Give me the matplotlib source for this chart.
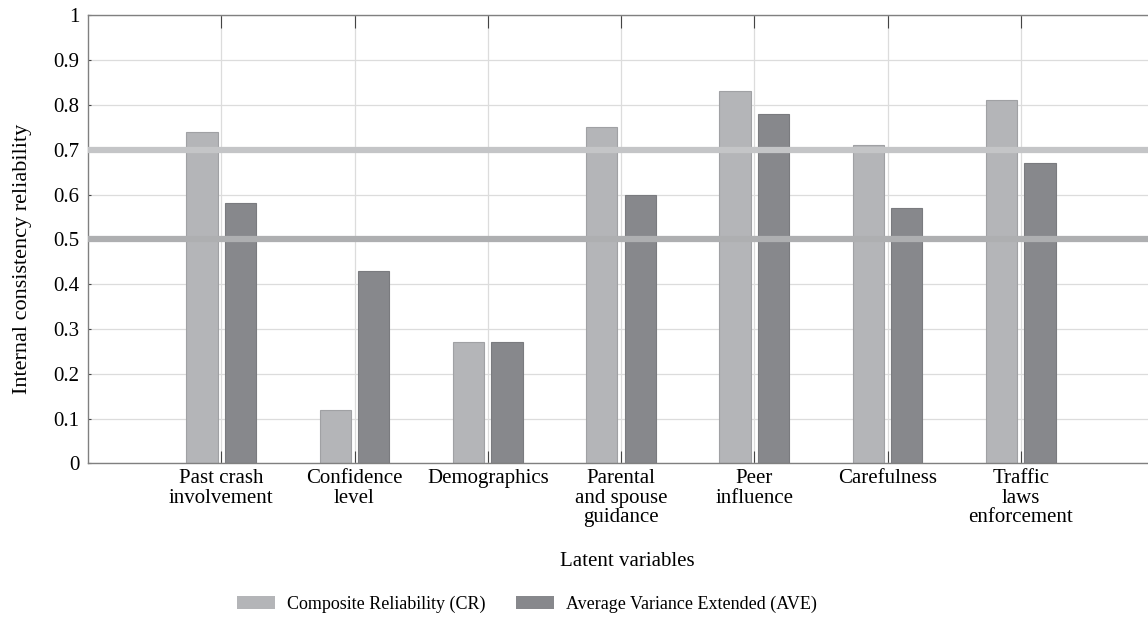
import matplotlib
matplotlib.use("Agg")
import matplotlib.pyplot as plt
import numpy as np
from matplotlib.patches import Patch

categories = ["Past crash\ninvolvement", "Confidence\nlevel", "Demographics",
              "Parental\nand spouse\nguidance", "Peer\ninfluence", "Carefulness",
              "Traffic\nlaws\nenforcement"]
cr_values = [0.74, 0.12, 0.27, 0.75, 0.83, 0.71, 0.81]
ave_values = [0.58, 0.43, 0.27, 0.60, 0.78, 0.57, 0.67]
yticks = [0, 0.1, 0.2, 0.3, 0.4, 0.5, 0.6, 0.7, 0.8, 0.9, 1]
ytick_labels = ["0", "0.1", "0.2", "0.3", "0.4", "0.5", "0.6", "0.7", "0.8", "0.9", "1"]
thresholds = [0.7, 0.5]
series_names = ["Composite Reliability (CR)", "Average Variance Extended (AVE)"]

plt.rcParams['font.family'] = ['Liberation Serif', 'DejaVu Serif']

fig = plt.figure(figsize=(11.48, 6.26), dpi=100)
ax = fig.add_axes([88/1148, 1-463.3/626, (1154-88)/1148, (463.3-15.3)/626])

x = np.arange(len(categories))
w = 0.235
c_cr = "#b4b5b8"
c_ave = "#87888c"
ax.bar(x - 0.145, cr_values, w, color=c_cr, edgecolor="#a0a1a4", linewidth=0.8, zorder=2)
ax.bar(x + 0.145, ave_values, w, color=c_ave, edgecolor="#7a7b7f", linewidth=0.8, zorder=2)

ax.axhline(thresholds[0], color="#c4c5c7", linewidth=4.5, zorder=3)
ax.axhline(thresholds[1], color="#aeafb1", linewidth=4.5, zorder=3)

ax.set_xlim(-1, 7)
ax.set_ylim(0, 1)
ax.set_yticks(yticks)
ax.set_yticklabels(ytick_labels, fontsize=15)
ax.set_xticks(x)
ax.set_xticklabels(categories, fontsize=15, linespacing=1.05)
ax.grid(True, color="#dcdcdc", linewidth=0.9, zorder=0)
ax.set_axisbelow(True)

ax.tick_params(axis='x', direction='in', length=9, width=0.8, color="#444444",
               top=True, bottom=True, pad=4)
ax.tick_params(axis='y', direction='in', length=2.5, width=0.8, color="#444444",
               left=True, right=True, pad=6)
for s in ax.spines.values():
    s.set_color("#808080")
    s.set_linewidth(1.0)

ax.set_ylabel("Internal consistency reliability", fontsize=16)
ax.yaxis.set_label_coords((32-88)/1066, (463.3-259)/448)
fig.text(627/1148, 1-561/626, "Latent variables", ha="center", va="center", fontsize=15)

handles = [Patch(facecolor=c_cr, edgecolor="none"), Patch(facecolor=c_ave, edgecolor="none")]
fig.legend(handles, series_names, loc="center", bbox_to_anchor=(527/1148, 1-604/626),
           ncol=2, frameon=False, fontsize=13, handlelength=2.1, handleheight=0.75,
           columnspacing=1.65, handletextpad=0.7)

fig.savefig("out.png", dpi=100)
